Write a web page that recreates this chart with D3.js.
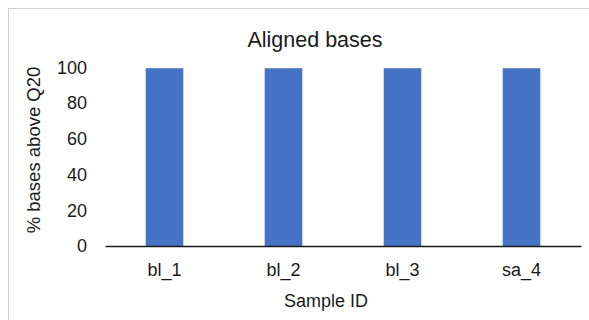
<!DOCTYPE html>
<html><head><meta charset="utf-8">
<script src="https://cdn.jsdelivr.net/npm/d3@7"></script>
<style>html,body{margin:0;padding:0;background:#fff;}svg{display:block;font-family:"Liberation Sans",Arial,sans-serif;}</style>
</head><body>
<script>
const categories = ["bl_1", "bl_2", "bl_3", "sa_4"];
const values = [99.6, 99.6, 99.6, 99.6];
const yTicks = [0, 20, 40, 60, 80, 100];
const title = "Aligned bases";
const xTitle = "Sample ID";
const yTitle = "% bases above Q20";

const W = 589, H = 320;
const svg = d3.select("body").append("svg").attr("width", W).attr("height", H);
svg.append("rect").attr("x", 8.5).attr("y", 8.5).attr("width", 700).attr("height", 400)
  .attr("fill", "#fff").attr("stroke", "#d0d0d0").attr("stroke-width", 1);

const x = d3.scaleBand().domain(categories).range([105, 581]).padding(0);
const y = d3.scaleLinear().domain([0, 100]).range([246, 67.5]);
const barW = x.bandwidth() * 0.316;

svg.append("g").selectAll("rect").data(categories).join("rect")
  .attr("x", (d) => x(d) + x.bandwidth() / 2 - barW / 2)
  .attr("y", (d, i) => y(values[i]))
  .attr("width", barW)
  .attr("height", (d, i) => y(0) - y(values[i]))
  .attr("fill", "#4472C4");

const yAxis = d3.axisLeft(y).tickValues(yTicks).tickSize(0).tickPadding(0).tickFormat(d3.format("d"));
const gy = svg.append("g").attr("transform", "translate(87,0)").call(yAxis);
gy.select(".domain").remove();
gy.selectAll("text").attr("font-size", 18).attr("fill", "#1a1a1a").attr("font-family", "Liberation Sans, Arial, sans-serif");

const xAxis = d3.axisBottom(x).tickSize(0).tickPadding(0);
const gx = svg.append("g").attr("transform", "translate(0,246)").call(xAxis);
gx.select(".domain").attr("stroke", "#1a1a1a").attr("stroke-width", 1.5);
gx.selectAll("text").attr("font-size", 18).attr("fill", "#1a1a1a").attr("dy", null).attr("y", 30)
  .attr("font-family", "Liberation Sans, Arial, sans-serif");

svg.append("text").attr("x", 315).attr("y", 46.5).attr("text-anchor", "middle")
  .attr("font-size", 21.5).attr("fill", "#1a1a1a").text(title);
svg.append("text").attr("x", 326).attr("y", 307).attr("text-anchor", "middle")
  .attr("font-size", 18).attr("fill", "#1a1a1a").text(xTitle);
svg.append("text").attr("transform", "translate(40,150) rotate(-90)").attr("text-anchor", "middle")
  .attr("font-size", 18.5).attr("fill", "#1a1a1a").text(yTitle);
</script>
</body></html>
